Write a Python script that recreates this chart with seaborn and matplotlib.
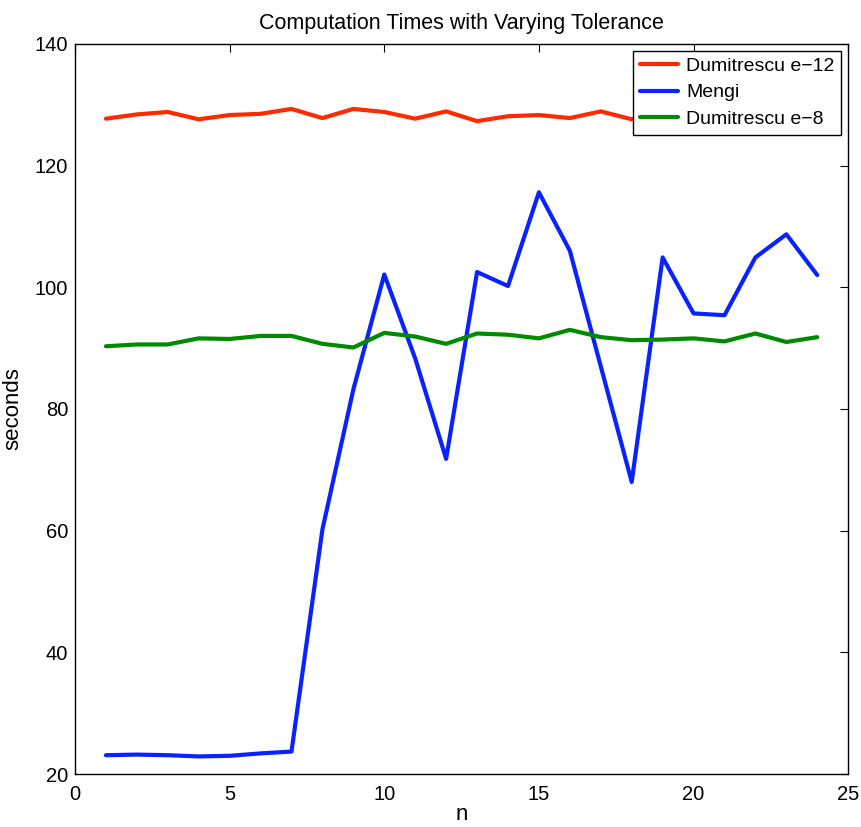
import pandas as pd
import matplotlib.pyplot as plt
import seaborn as sns

# dados
n = list(range(1, 25))
dumitrescu_e12 = [127.7, 128.4, 128.8, 127.6, 128.3, 128.5, 129.3, 127.8, 129.3, 128.8,
                  127.7, 128.9, 127.3, 128.1, 128.3, 127.8, 128.9, 127.6, 128.4, 128.5,
                  128.0, 128.6, 127.9, 128.3]
mengi = [23.1, 23.2, 23.1, 22.9, 23.0, 23.4, 23.7, 60.2, 83.2, 102.1,
         88.3, 71.8, 102.5, 100.2, 115.6, 106.0, 87.0, 68.0, 104.9, 95.7,
         95.4, 104.9, 108.7, 102.0]
dumitrescu_e8 = [90.3, 90.6, 90.6, 91.6, 91.5, 92.0, 92.0, 90.7, 90.1, 92.5,
                 91.9, 90.7, 92.4, 92.2, 91.6, 93.0, 91.8, 91.3, 91.4, 91.6,
                 91.1, 92.4, 91.0, 91.8]
series = ['Dumitrescu e\u221212', 'Mengi', 'Dumitrescu e\u22128']
cores = ['#ff2a00', '#0a22ff', '#008a00']

df = pd.DataFrame({
    'n': n * 3,
    'seconds': dumitrescu_e12 + mengi + dumitrescu_e8,
    'serie': [series[0]] * 24 + [series[1]] * 24 + [series[2]] * 24,
})

sns.set_style('white')
plt.rcParams['font.family'] = ['Liberation Sans', 'DejaVu Sans']
plt.rcParams['text.color'] = 'black'
plt.rcParams['axes.labelcolor'] = 'black'
plt.rcParams['xtick.color'] = 'black'
plt.rcParams['ytick.color'] = 'black'

fig = plt.figure(figsize=(8.62, 8.27), dpi=100)
ax = fig.add_axes([0.087, 0.064, 0.897, 0.883])
sns.lineplot(data=df, x='n', y='seconds', hue='serie', hue_order=series,
             palette=cores, linewidth=3.0, ax=ax)

ax.set_xlim(0, 25)
ax.set_ylim(20, 140)
ax.set_xticks([0, 5, 10, 15, 20, 25])
ax.set_yticks([20, 40, 60, 80, 100, 120, 140])
ax.tick_params(direction='in', top=True, right=True, labelsize=14.5, length=6, width=0.8)
ax.tick_params(axis='x', pad=8)
ax.tick_params(axis='y', pad=5)
for s in ax.spines.values():
    s.set_color('black')
    s.set_linewidth(1.0)

ax.set_title('Computation Times with Varying Tolerance', fontsize=15.5, pad=11)
ax.set_xlabel('n', fontsize=16, labelpad=0)
ax.set_ylabel('seconds', fontsize=16, labelpad=8)

leg = ax.legend(loc='upper right', fontsize=14, frameon=True, fancybox=False,
                edgecolor='black', borderaxespad=0.35, handlelength=2.0,
                borderpad=0.35, labelspacing=0.45, handletextpad=0.4)
leg.get_frame().set_linewidth(1.0)
leg.get_frame().set_alpha(1)

plt.savefig('out.png', dpi=100)
